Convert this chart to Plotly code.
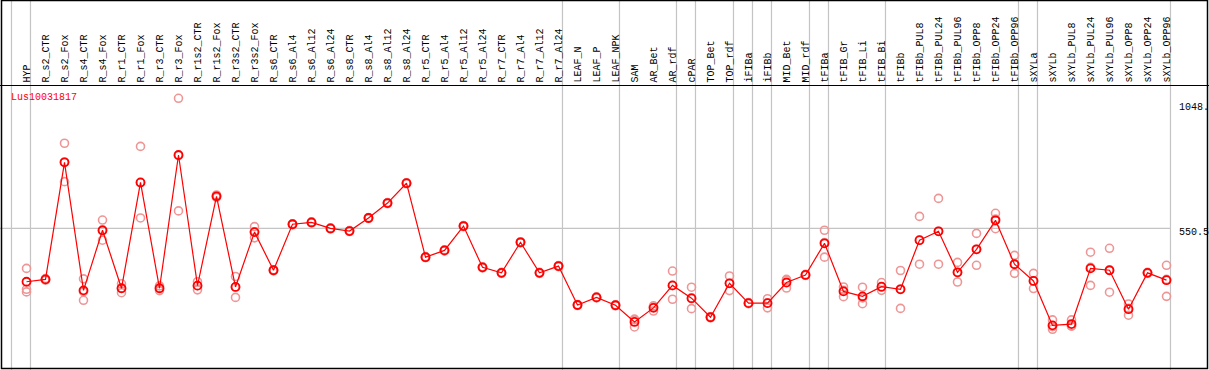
import plotly.graph_objects as go

categories = ["HYP", "R_s2_CTR", "R_s2_Fox", "R_s4_CTR", "R_s4_Fox", "R_r1_CTR", "R_r1_Fox",
              "R_r3_CTR", "R_r3_Fox", "R_r1s2_CTR", "R_r1s2_Fox", "R_r3s2_CTR", "R_r3s2_Fox",
              "R_s6_CTR", "R_s6_Al4", "R_s6_Al12", "R_s6_Al24", "R_s8_CTR", "R_s8_Al4", "R_s8_Al12",
              "R_s8_Al24", "R_r5_CTR", "R_r5_Al4", "R_r5_Al12", "R_r5_Al24", "R_r7_CTR", "R_r7_Al4",
              "R_r7_Al12", "R_r7_Al24", "LEAF_N", "LEAF_P", "LEAF_NPK", "SAM", "AR_Bet", "AR_rdf",
              "cPAR", "TOP_Bet", "TOP_rdf", "iFIBa", "iFIBb", "MID_Bet", "MID_rdf", "tFIBa",
              "tFIB_Gr", "tFIB_Li", "tFIB_Bi", "tFIBb", "tFIBb_PUL8", "tFIBb_PUL24", "tFIBb_PUL96",
              "tFIBb_OPP8", "tFIBb_OPP24", "tFIBb_OPP96", "sXYLa", "sXYLb", "sXYLb_PUL8",
              "sXYLb_PUL24", "sXYLb_PUL96", "sXYLb_OPP8", "sXYLb_OPP24", "sXYLb_OPP96"]

mean_values = [346, 355, 803, 313, 543, 321, 726, 321, 831, 331, 673, 326, 536,
               390, 566, 573, 550, 540, 590, 647, 723, 440, 466, 559, 401, 380, 497, 380, 406,
               257, 286, 256, 192, 246, 332, 283, 210, 340, 264, 264, 343, 372, 493,
               309, 290, 327, 317, 505, 539, 382, 470, 581, 413, 349, 179, 184, 397, 390,
               241, 380, 352]

rep1 = [397, 358, 876, 357, 582, 338, 864, 330, 1048, 346, 678, 366, 557,
        392, 568, 575, 552, 542, 592, 649, 725, 442, 468, 561, 403, 382, 499, 382, 408,
        259, 288, 258, 200, 254, 387, 325, 212, 368, 266, 281, 355, 374, 543,
        326, 325, 343, 389, 596, 665, 420, 531, 608, 447, 378, 200, 200, 459, 474,
        261, 382, 409]
rep2 = [317, 352, 729, 275, 505, 304, 590, 312, 617, 315, 669, 286, 514,
        388, 564, 571, 548, 538, 588, 645, 721, 438, 464, 557, 399, 378, 495, 378, 404,
        255, 284, 254, 173, 234, 279, 243, 208, 312, 262, 246, 322, 370, 440,
        289, 262, 313, 244, 413, 413, 345, 409, 549, 378, 320, 164, 177, 332, 306,
        218, 378, 290]
rep3 = [307, 355, 804, 308, 541, 321, 725, 321, 829, 331, 673, 326, 537,
        390, 566, 573, 550, 540, 590, 647, 723, 440, 466, 559, 401, 380, 497, 380, 406,
        257, 286, 256, 203, 249, 331, 281, 210, 340, 264, 265, 352, 372, 496,
        313, 284, 325, 318, 505, 539, 381, 470, 586, 414, 349, 174, 176, 401, 390,
        244, 380, 355]

group_sizes = [1, 28, 3, 3, 1, 2, 1, 1, 2, 1, 3, 7, 1, 7]

title_text = "Lus10031817"
ytick_values = [1048, 550.5, 0]
ytick_labels = ["1048.", "550.5", "0"]

W, H = 1209, 370
FONT = "Liberation Mono"
idx = list(range(len(categories)))

fig = go.Figure()

# replicates (pale)
rx, ry = [], []
for r in (rep1, rep2, rep3):
    rx.extend(idx)
    ry.extend(r)
fig.add_trace(go.Scatter(
    x=rx, y=ry, mode="markers",
    marker=dict(symbol="circle-open", size=8, color="rgb(238,150,150)", line=dict(width=1.6)),
    hoverinfo="skip", showlegend=False))

# mean line
fig.add_trace(go.Scatter(
    x=idx, y=mean_values, mode="lines+markers",
    line=dict(color="#ff0000", width=1.2),
    marker=dict(symbol="circle-open", size=8, color="#ff0000", line=dict(width=1.8)),
    showlegend=False))

shapes = []
# group separators
bounds = [-1]
acc = -1
for g in group_sizes:
    acc += g
    bounds.append(acc)
for b in bounds:
    shapes.append(dict(type="line", xref="x", yref="paper", x0=b + 0.21, x1=b + 0.21,
                       y0=0, y1=1, line=dict(color="#c4c4c4", width=1.2), layer="below"))
# horizontal grid at mid value
shapes.append(dict(type="line", xref="x", yref="y", x0=-1.3947, x1=bounds[-1] + 0.21,
                   y0=ytick_values[1], y1=ytick_values[1],
                   line=dict(color="#c4c4c4", width=1.2), layer="below"))
# header separator
shapes.append(dict(type="line", xref="paper", yref="paper", x0=0, x1=1,
                   y0=1 - 85.5 / H, y1=1 - 85.5 / H, line=dict(color="black", width=1.2)))
# frame
shapes.append(dict(type="rect", xref="paper", yref="paper", x0=1.5 / W, x1=1 - 1.5 / W,
                   y0=1.5 / H, y1=1 - 0.5 / H, line=dict(color="black", width=1.5)))

annotations = []
for i, c in enumerate(categories):
    annotations.append(dict(x=i, xref="x", y=1 - 84 / H, yref="paper", text=c,
                            textangle=-90, xanchor="center", yanchor="bottom",
                            showarrow=False, font=dict(family=FONT, size=10, color="black"),
                            borderpad=0))
annotations.append(dict(x=9 / W, xref="paper", y=1 - 97 / H, yref="paper", text=title_text,
                        xanchor="left", yanchor="middle", showarrow=False,
                        font=dict(family=FONT, size=10, color="#ff0000")))
yshifts = [-9, -4, 9]
for v, t, s in zip(ytick_values, ytick_labels, yshifts):
    annotations.append(dict(x=1177 / W, xref="paper", y=v, yref="y", text=t, yshift=s,
                            xanchor="left", yanchor="middle", showarrow=False,
                            font=dict(family=FONT, size=10, color="black")))

fig.update_layout(
    width=W, height=H, margin=dict(l=0, r=0, t=0, b=0),
    paper_bgcolor="white", plot_bgcolor="white",
    xaxis=dict(range=[-26.5 / 19, (W - 26.5) / 19], visible=False, fixedrange=True),
    yaxis=dict(range=[8.2, 1424.2], visible=False, fixedrange=True),
    shapes=shapes, annotations=annotations,
)

fig.write_html("out.html", config={"displayModeBar": False},
               post_script="document.body.style.margin='0';document.body.style.overflow='hidden';")
